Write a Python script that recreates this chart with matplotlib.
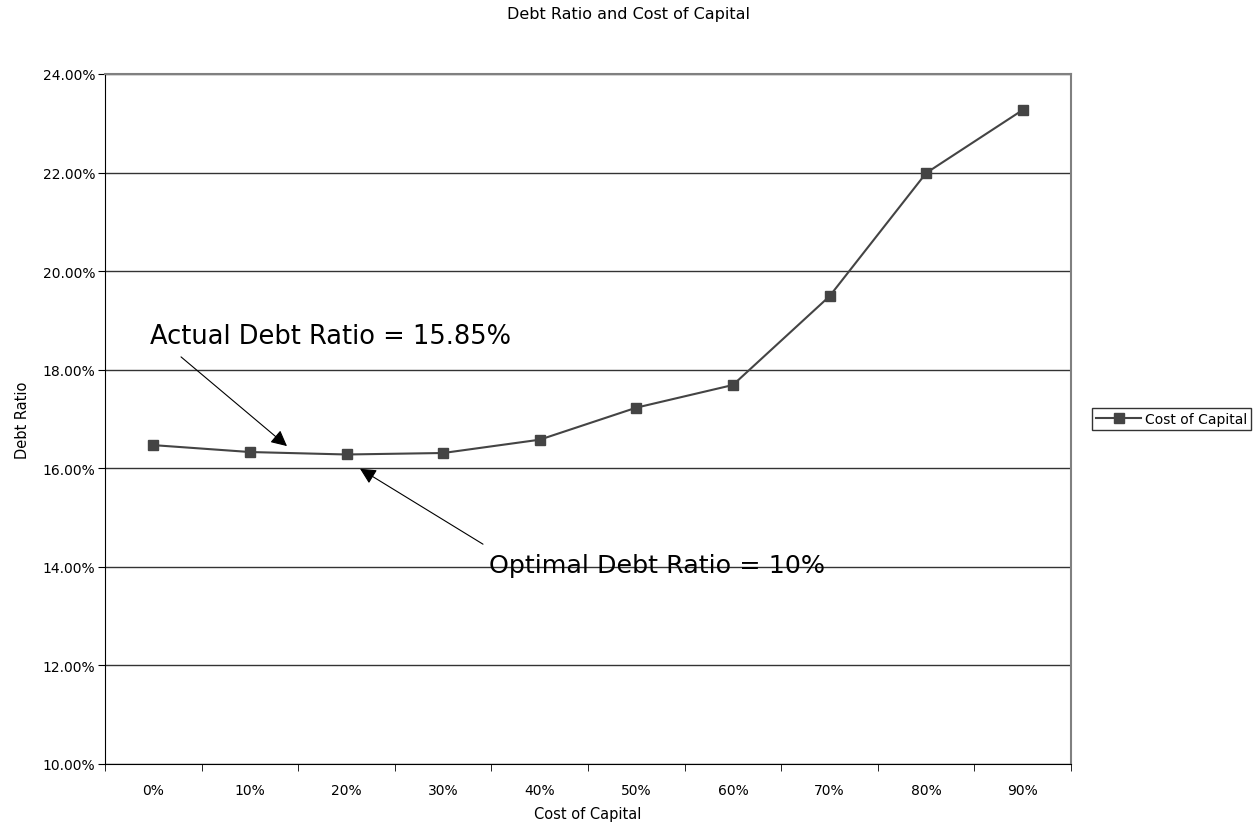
import numpy as np
import matplotlib.pyplot as plt
from matplotlib.ticker import FuncFormatter, FixedLocator

# data
debt_ratio_labels = ['0%', '10%', '20%', '30%', '40%', '50%', '60%', '70%', '80%', '90%']
cost_of_capital = [16.47, 16.33, 16.28, 16.31, 16.58, 17.23, 17.69, 19.49, 21.99, 23.27]

fig = plt.figure(figsize=(12.57, 8.28), dpi=100)
ax = fig.add_axes([105/1257, 1 - 765/828, (1071-105)/1257, (765-75)/828])

x = np.arange(len(debt_ratio_labels))
ax.plot(x, cost_of_capital, color='#444444', lw=1.5, marker='s', ms=7,
        mfc='#444444', mec='#444444', label='Cost of Capital', zorder=3)

ax.set_xlim(-0.5, len(x) - 0.5)
ax.set_ylim(10, 24)
ax.set_yticks(np.arange(10, 24.01, 2))
ax.yaxis.set_major_formatter(FuncFormatter(lambda v, p: f'{v:.2f}%'))
ax.set_xticks(x)
ax.set_xticklabels(debt_ratio_labels)
ax.xaxis.set_minor_locator(FixedLocator(np.arange(-0.5, len(x), 1)))
ax.tick_params(axis='x', which='major', length=0, pad=14, labelsize=10)
ax.tick_params(axis='x', which='minor', length=5, direction='out', color='black')
ax.tick_params(axis='y', length=5, direction='out', labelsize=10, pad=2)

ax.grid(axis='y', color='#333333', lw=1)
ax.set_axisbelow(True)
for side in ['top', 'right']:
    ax.spines[side].set_color('#808080')
    ax.spines[side].set_linewidth(1.5)
ax.spines['left'].set_color('black')
ax.spines['bottom'].set_color('black')

ax.set_xlabel('Cost of Capital', fontsize=10.5, labelpad=6)
ax.set_ylabel('Debt Ratio', fontsize=10.5, labelpad=9)
fig.suptitle('Debt Ratio and Cost of Capital', fontsize=11.5, y=0.992)

# annotation texts and their arrows
ax.text(-0.03, 18.69, 'Actual Debt Ratio = 15.85%', fontsize=18.5, va='center', ha='left')
ax.annotate('', xy=(1.384, 16.45), xytext=(0.287, 18.26),
            arrowprops=dict(arrowstyle='-|>', color='black', lw=0.8, mutation_scale=24,
                            shrinkA=0, shrinkB=0))
ax.text(3.48, 14.04, 'Optimal Debt Ratio = 10%', fontsize=18.3, va='center', ha='left')
ax.annotate('', xy=(2.14, 15.99), xytext=(3.413, 14.46),
            arrowprops=dict(arrowstyle='-|>', color='black', lw=0.8, mutation_scale=24,
                            shrinkA=0, shrinkB=0))

leg = ax.legend(loc='center left', bbox_to_anchor=(1.022, 0.5), fontsize=10,
                frameon=True, fancybox=False, edgecolor='black', borderpad=0.3,
                handlelength=3.2, handletextpad=0.3, borderaxespad=0)
leg.get_frame().set_linewidth(1)

fig.savefig('out.png', dpi=100)
